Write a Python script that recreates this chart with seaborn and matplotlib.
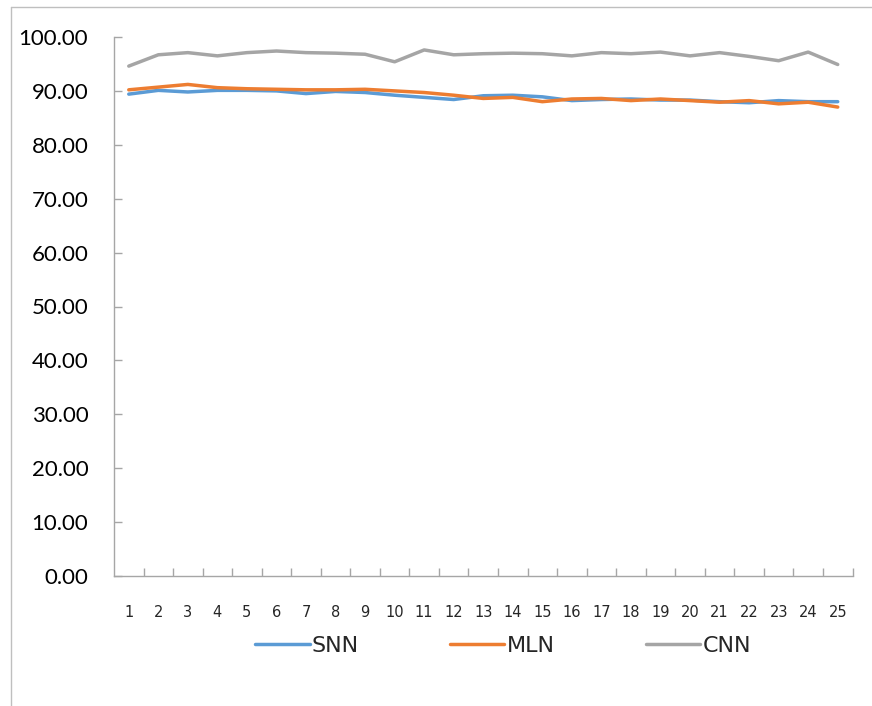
import matplotlib
matplotlib.use("Agg")
import matplotlib.pyplot as plt
from matplotlib.lines import Line2D
from matplotlib.ticker import FixedLocator, FormatStrFormatter
import numpy as np
import pandas as pd
import seaborn as sns

# Accuracy (%) per run for each network
runs = list(range(1, 26))
snn = [89.4, 90.1, 89.8, 90.1, 90.1, 90.0, 89.5, 89.9, 89.7, 89.2,
       88.8, 88.4, 89.1, 89.2, 88.9, 88.2, 88.4, 88.5, 88.3, 88.3,
       88.0, 87.8, 88.2, 88.0, 88.0]
mln = [90.2, 90.7, 91.2, 90.6, 90.4, 90.3, 90.2, 90.2, 90.3, 90.0,
       89.7, 89.2, 88.6, 88.8, 88.0, 88.5, 88.6, 88.2, 88.5, 88.2,
       87.9, 88.2, 87.6, 87.9, 87.0]
cnn = [94.6, 96.7, 97.1, 96.5, 97.1, 97.4, 97.1, 97.0, 96.8, 95.4,
       97.6, 96.7, 96.9, 97.0, 96.9, 96.5, 97.1, 96.9, 97.2, 96.5,
       97.1, 96.4, 95.6, 97.2, 94.9]
series_names = ["SNN", "MLN", "CNN"]
palette = {"SNN": "#5B9BD5", "MLN": "#ED7D31", "CNN": "#A5A5A5"}
y_ticks = list(range(0, 101, 10))

df = pd.DataFrame({
    "run": runs * 3,
    "accuracy": snn + mln + cnn,
    "model": sum([[n] * len(runs) for n in series_names], []),
})

sns.set_theme(style="white")
plt.rcParams["font.family"] = ["Lato", "DejaVu Sans"]

W, H = 872, 706
fig = plt.figure(figsize=(W / 100, H / 100), dpi=100)
ax = fig.add_axes([114 / W, 1 - 576 / H, (852.5 - 114) / W, (576 - 37) / H])

sns.lineplot(data=df, x="run", y="accuracy", hue="model", hue_order=series_names,
             palette=palette, linewidth=2.5, ax=ax, legend=False,
             solid_capstyle="round", solid_joinstyle="round")

axis_grey = "#A6A6A6"
ax.set_xlim(0.5, 25.5)
ax.set_ylim(0, 100)
ax.set_xlabel("")
ax.set_ylabel("")
for side in ["top", "right"]:
    ax.spines[side].set_visible(False)
for side in ["left", "bottom"]:
    ax.spines[side].set_color(axis_grey)
    ax.spines[side].set_linewidth(1.0)

ax.set_yticks(y_ticks)
ax.yaxis.set_major_formatter(FormatStrFormatter("%.2f"))
ax.tick_params(axis="y", direction="in", length=6, width=1.0, color=axis_grey,
               labelsize=16, labelcolor="#000000", pad=18.5, left=True)

ax.set_xticks(runs)
ax.set_xticklabels([str(r) for r in runs])
ax.xaxis.set_minor_locator(FixedLocator([r + 0.5 for r in runs]))
ax.tick_params(axis="x", which="major", length=0, labelsize=10.5, pad=21,
               labelcolor="#262626")
ax.tick_params(axis="x", which="minor", direction="in", length=5.5, width=1.0,
               color=axis_grey, bottom=True)
for lbl in ax.get_xticklabels():
    lbl.set_family(["Liberation Sans Narrow", "DejaVu Sans"])

handles = [Line2D([], [], color=palette[n], linewidth=2.5,
                  solid_capstyle="round") for n in series_names]
leg = fig.legend(handles, series_names, loc="center", ncol=3,
                 bbox_to_anchor=(503 / W, 1 - 646 / H), frameon=False,
                 handlelength=2.45, handletextpad=0.1, columnspacing=4.1,
                 prop={"family": ["Liberation Sans Narrow", "DejaVu Sans"], "size": 16})

# Chart-area border (left and top edges)
fig.add_artist(Line2D([11 / W, 1.0], [1 - 7.3 / H, 1 - 7.3 / H],
                      transform=fig.transFigure, color="#BFBFBF", linewidth=1.0))
fig.add_artist(Line2D([11 / W, 11 / W], [0, 1 - 7.3 / H],
                      transform=fig.transFigure, color="#BFBFBF", linewidth=1.0))

fig.savefig("out.png", dpi=100)
